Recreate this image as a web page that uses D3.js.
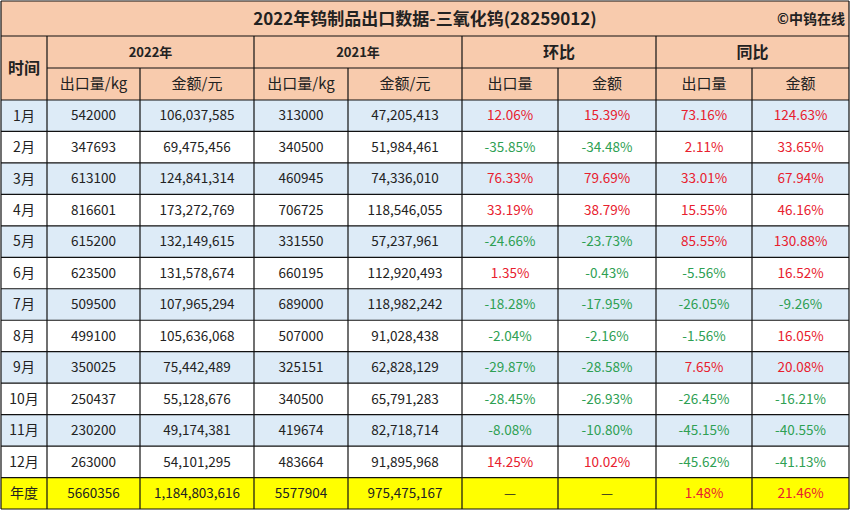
<!DOCTYPE html>
<html><head><meta charset="utf-8">
<script src="https://cdn.jsdelivr.net/npm/d3@7"></script>
<style>body{margin:0;background:#fff}text{font-family:"Noto Sans CJK SC","Noto Sans",sans-serif}</style>
</head><body><svg id="c" width="850" height="510"></svg>
<script>
const months=["1月","2月","3月","4月","5月","6月","7月","8月","9月","10月","11月","12月","年度"];
const qty2022=["542000","347693","613100","816601","615200","623500","509500","499100","350025","250437","230200","263000","5660356"];
const amt2022=["106,037,585","69,475,456","124,841,314","173,272,769","132,149,615","131,578,674","107,965,294","105,636,068","75,442,489","55,128,676","49,174,381","54,101,295","1,184,803,616"];
const qty2021=["313000","340500","460945","706725","331550","660195","689000","507000","325151","340500","419674","483664","5577904"];
const amt2021=["47,205,413","51,984,461","74,336,010","118,546,055","57,237,961","112,920,493","118,982,242","91,028,438","62,828,129","65,791,283","82,718,714","91,895,968","975,475,167"];
const momQty=["12.06%","-35.85%","76.33%","33.19%","-24.66%","1.35%","-18.28%","-2.04%","-29.87%","-28.45%","-8.08%","14.25%","—"];
const momAmt=["15.39%","-34.48%","79.69%","38.79%","-23.73%","-0.43%","-17.95%","-2.16%","-28.58%","-26.93%","-10.80%","10.02%","—"];
const yoyQty=["73.16%","2.11%","33.01%","15.55%","85.55%","-5.56%","-26.05%","-1.56%","7.65%","-26.45%","-45.15%","-45.62%","1.48%"];
const yoyAmt=["124.63%","33.65%","67.94%","46.16%","130.88%","16.52%","-9.26%","16.05%","20.08%","-16.21%","-40.55%","-41.13%","21.46%"];
const groups=["2022年","2021年","环比","同比"];
const subHeads=["出口量/kg","金额/元","出口量/kg","金额/元","出口量","金额","出口量","金额"];
const title="2022年钨制品出口数据-三氧化钨(28259012)";

const svg=d3.select("#c");
const colEdges=[1,47,140,254,348,462,558,656,752,849];
const cx=i=>colEdges[i];
const y=d3.scaleBand().domain(months).range([100,509]);
const cols=[months,qty2022,amt2022,qty2021,amt2021,momQty,momAmt,yoyQty,yoyAmt];
svg.append("rect").attr("x",1).attr("y",1).attr("width",848).attr("height",99).attr("fill","#F8CBAD");
months.forEach((m,r)=>{
  svg.append("rect").attr("x",1).attr("y",y(m)).attr("width",848).attr("height",y.bandwidth())
   .attr("fill", r===12?"#FFFF00":(r%2===0?"#DDEBF7":"#FFFFFF"));
});
const red="#E8202E",green="#2EA053";
cols.forEach((col,c)=>{
  col.forEach((v,r)=>{
    let fill="#222";
    if(c>=5){ fill = v.startsWith("-")?green:(v==="—"?"#222":red); }
    svg.append("text").attr("x",(cx(c)+cx(c+1))/2).attr("y",y(months[r])+y.bandwidth()/2)
      .attr("dy","0.35em").attr("text-anchor","middle").attr("font-size",c===0?14:13.5)
      .attr("fill",fill).text(v);
  });
});
svg.append("text").attr("x",425).attr("y",19).attr("dy","0.35em").attr("text-anchor","middle")
  .attr("font-size",17).attr("font-weight","bold").attr("fill","#222").text(title);
svg.append("text").attr("x",845).attr("y",19).attr("dy","0.35em").attr("text-anchor","end")
  .attr("font-size",14).attr("font-weight","bold").attr("fill","#222").text("©中钨在线");
groups.forEach((g,i)=>{
  svg.append("text").attr("x",(cx(1+2*i)+cx(3+2*i))/2).attr("y",52).attr("dy","0.35em")
   .attr("text-anchor","middle").attr("font-size",i<2?13:16).attr("font-weight","bold").attr("fill","#222").text(g);
});
subHeads.forEach((s,i)=>{
  svg.append("text").attr("x",(cx(1+i)+cx(2+i))/2).attr("y",84).attr("dy","0.35em")
   .attr("text-anchor","middle").attr("font-size",15).attr("fill","#222").text(s);
});
svg.append("text").attr("x",24).attr("y",68).attr("dy","0.35em").attr("text-anchor","middle")
  .attr("font-size",16).attr("font-weight","bold").attr("fill","#222").text("时间");
const L=(x1,y1,x2,y2)=>svg.append("line").attr("x1",x1).attr("y1",y1).attr("x2",x2).attr("y2",y2).attr("stroke","#111").attr("stroke-width",1.2);
L(1,1,849,1);L(1,36,849,36);L(47,68,849,68);
[100].concat(months.map(m=>y(m)+y.bandwidth())).forEach(v=>L(1,v,849,v));
L(1,1,1,509);L(849,1,849,509);
colEdges.slice(1,-1).forEach((e,i)=>{ const top=(i%2===0)?36:68; L(e,top,e,509); });
</script></body></html>
